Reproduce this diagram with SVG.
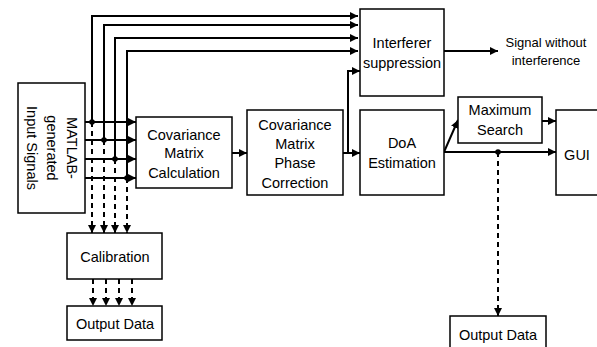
<svg xmlns="http://www.w3.org/2000/svg" width="597" height="347" viewBox="0 0 597 347">
  <style>
    .box { fill: #fff; stroke: #000; stroke-width: 1.5; }
    .t { font-family: "Liberation Sans", Arial, sans-serif; font-size: 14.5px; fill: #000; text-anchor: middle; }
    .ts { font-family: "Liberation Sans", Arial, sans-serif; font-size: 13px; fill: #000; text-anchor: middle; }
    .w { fill: none; stroke: #000; stroke-width: 2; }
    .d { fill: none; stroke: #000; stroke-width: 2; stroke-dasharray: 5 4; }
    .dot { fill: #000; }
  </style>
  <defs>
    <marker id="ah" viewBox="0 0 10 10" refX="10" refY="5" markerWidth="4" markerHeight="4" orient="auto" markerUnits="strokeWidth">
      <path d="M0,0 L10,5 L0,10 z" fill="#000"/>
    </marker>
  </defs>

  <rect width="597" height="347" fill="#fff"/>

  <g id="connectors">
    <!-- four channels: top bus to interferer suppression -->
    <path class="w" d="M85,122 H92 V16 H358" marker-end="url(#ah)"/>
    <path class="w" d="M104,140 V25 H358" marker-end="url(#ah)"/>
    <path class="w" d="M115,159 V38 H358" marker-end="url(#ah)"/>
    <path class="w" d="M127,178 V51 H358" marker-end="url(#ah)"/>
    <!-- four channels into covariance calculation -->
    <path class="w" d="M85,122 H136" marker-end="url(#ah)"/>
    <path class="w" d="M85,140 H136" marker-end="url(#ah)"/>
    <path class="w" d="M85,159 H136" marker-end="url(#ah)"/>
    <path class="w" d="M85,178 H136" marker-end="url(#ah)"/>
    <circle class="dot" cx="92" cy="122" r="2.8"/>
    <circle class="dot" cx="104" cy="140" r="2.8"/>
    <circle class="dot" cx="115" cy="159" r="2.8"/>
    <circle class="dot" cx="127" cy="178" r="2.8"/>
    <!-- dashed taps to calibration -->
    <path class="d" d="M92,122 V233" marker-end="url(#ah)"/>
    <path class="d" d="M104,140 V233" marker-end="url(#ah)"/>
    <path class="d" d="M115,159 V233" marker-end="url(#ah)"/>
    <path class="d" d="M127,178 V233" marker-end="url(#ah)"/>
    <!-- calibration to output -->
    <path class="d" d="M93,279 V306" marker-end="url(#ah)"/>
    <path class="d" d="M106,279 V306" marker-end="url(#ah)"/>
    <path class="d" d="M119,279 V306" marker-end="url(#ah)"/>
    <path class="d" d="M132,279 V306" marker-end="url(#ah)"/>
    <!-- processing chain -->
    <path class="w" d="M232,153 H247" marker-end="url(#ah)"/>
    <path class="w" d="M343,153 H360" marker-end="url(#ah)"/>
    <path class="w" d="M348,153 V71 H360" marker-end="url(#ah)"/>
    <path class="w" d="M444,51 H498" marker-end="url(#ah)"/>
    <path class="w" d="M444,152 L458,120" marker-end="url(#ah)"/>
    <path class="w" d="M542,121 H556" marker-end="url(#ah)"/>
    <path class="w" d="M444,152 H556" marker-end="url(#ah)"/>
    <circle class="dot" cx="498" cy="152" r="2.8"/>
    <path class="d" d="M498,152 V316" marker-end="url(#ah)"/>
  </g>

  <g id="matlab">
    <rect class="box" x="18" y="83" width="67" height="130"/>
    <g transform="translate(52,148) rotate(90)">
      <text class="t" x="0" y="-15">MATLAB-</text>
      <text class="t" x="0" y="5">generated</text>
      <text class="t" x="0" y="25">Input Signals</text>
    </g>
  </g>

  <g id="cov-calc">
    <rect class="box" x="136" y="117" width="96" height="71"/>
    <text class="t" x="184" y="140">Covariance</text>
    <text class="t" x="184" y="158">Matrix</text>
    <text class="t" x="184" y="178">Calculation</text>
  </g>

  <g id="phase-corr">
    <rect class="box" x="247" y="110" width="96" height="85"/>
    <text class="t" x="295" y="130">Covariance</text>
    <text class="t" x="295" y="149">Matrix</text>
    <text class="t" x="295" y="168">Phase</text>
    <text class="t" x="295" y="188">Correction</text>
  </g>

  <g id="interferer">
    <rect class="box" x="360" y="9" width="84" height="87"/>
    <text class="t" x="402" y="48">Interferer</text>
    <text class="t" x="402" y="68">suppression</text>
  </g>

  <g id="signal-out">
    <text class="ts" x="546" y="47">Signal without</text>
    <text class="ts" x="546" y="65">interference</text>
  </g>

  <g id="doa">
    <rect class="box" x="360" y="110" width="84" height="85"/>
    <text class="t" x="402" y="148">DoA</text>
    <text class="t" x="402" y="168">Estimation</text>
  </g>

  <g id="max-search">
    <rect class="box" x="458" y="97" width="84" height="46"/>
    <text class="t" x="500" y="115">Maximum</text>
    <text class="t" x="500" y="135">Search</text>
  </g>

  <g id="gui">
    <rect class="box" x="556" y="110" width="60" height="85"/>
    <text class="t" x="577" y="160">GUI</text>
  </g>

  <g id="calibration">
    <rect class="box" x="67" y="233" width="95" height="46"/>
    <text class="t" x="115" y="262">Calibration</text>
  </g>

  <g id="output-cal">
    <rect class="box" x="67" y="306" width="95" height="34"/>
    <text class="t" x="115" y="329">Output Data</text>
  </g>

  <g id="output-doa">
    <rect class="box" x="450" y="316" width="96" height="40"/>
    <text class="t" x="498" y="340">Output Data</text>
  </g>
</svg>
